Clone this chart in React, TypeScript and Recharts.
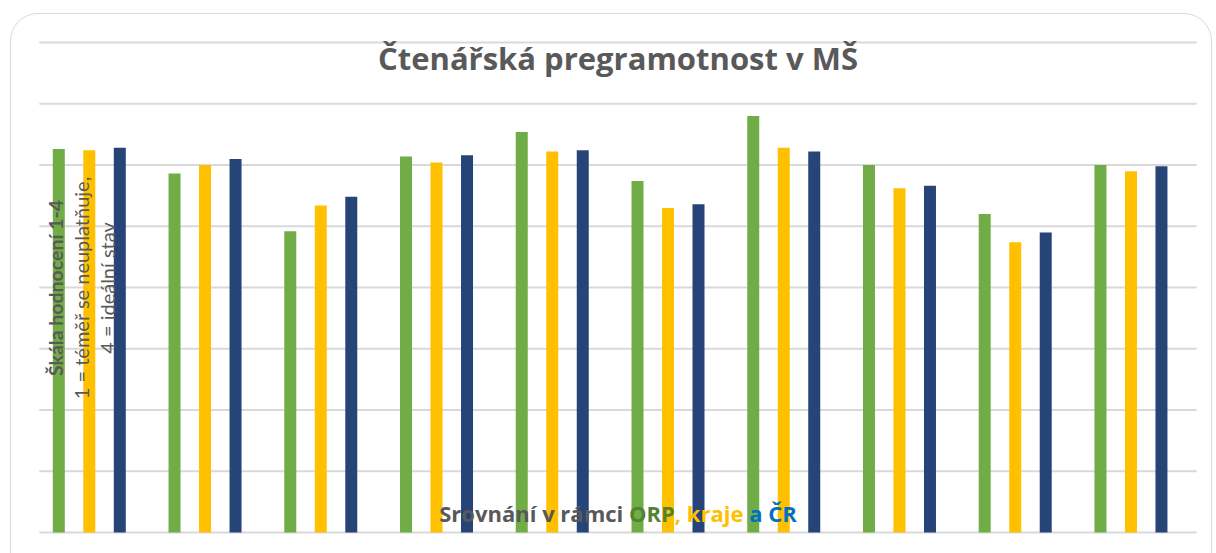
import React from 'react';
import { BarChart, Bar, XAxis, YAxis, CartesianGrid } from 'recharts';

const categories = ['1', '2', '3', '4', '5', '6', '7', '8', '9', '10'];
const orpValues = [3.13, 2.93, 2.46, 3.07, 3.27, 2.87, 3.4, 3.0, 2.6, 3.0];
const krajValues = [3.12, 3.0, 2.67, 3.02, 3.11, 2.65, 3.14, 2.81, 2.37, 2.95];
const crValues = [3.14, 3.05, 2.74, 3.08, 3.12, 2.68, 3.11, 2.83, 2.45, 2.99];
const yTicks = [0, 0.5, 1, 1.5, 2, 2.5, 3, 3.5, 4];

const data = categories.map((name, i) => ({
  name,
  orp: orpValues[i],
  kraj: krajValues[i],
  cr: crValues[i],
}));

const GRAY = '#595959';
const FONT = 'Lato, "Open Sans", sans-serif';
const FONT_WIDE = '"Open Sans", Lato, sans-serif';

export default function App() {
  return (
    <div
      style={{
        position: 'absolute',
        left: 0,
        top: 0,
        width: 1216,
        height: 553,
        overflow: 'hidden',
        background: '#ffffff',
      }}
    >
      <div
        style={{
          position: 'absolute',
          left: 10,
          top: 13,
          width: 1202,
          height: 580,
          border: '1.5px solid #D9D9D9',
          borderRadius: 28,
          boxSizing: 'border-box',
        }}
      />
      <div style={{ position: 'absolute', left: 0, top: 0 }}>
        <BarChart
          width={1216}
          height={553}
          data={data}
          margin={{ top: 42.5, right: 19.3, bottom: 20.5, left: 39.3 }}
          barSize={12}
          barGap={18.5}
        >
          <CartesianGrid vertical={false} stroke="#D9D9D9" strokeWidth={2} />
          <XAxis dataKey="name" hide padding={{ left: -7.5, right: 7.5 }} />
          <YAxis hide domain={[0, 4]} ticks={yTicks} />
          <Bar dataKey="orp" name="ORP" fill="#70AD47" isAnimationActive={false} />
          <Bar dataKey="kraj" name="Kraj" fill="#FFC000" isAnimationActive={false} />
          <Bar dataKey="cr" name="ČR" fill="#264478" isAnimationActive={false} />
        </BarChart>
      </div>
      <svg
        width={1216}
        height={553}
        style={{ position: 'absolute', left: 0, top: 0, pointerEvents: 'none' }}
      >
        <text
          x={618}
          y={70}
          textAnchor="middle"
          fontFamily={FONT_WIDE}
          fontWeight={700}
          fontSize={31}
          fill={GRAY}
        >
          Čtenářská pregramotnost v MŠ
        </text>
        <g fontFamily={FONT} fill={GRAY}>
          <text
            x={63}
            y={288}
            textAnchor="middle"
            fontWeight={700}
            fontSize={19.5}
            transform="rotate(-90, 63, 288)"
          >
            Škála hodnocení 1-4
          </text>
          <text
            x={89}
            y={288}
            textAnchor="middle"
            fontSize={20}
            transform="rotate(-90, 89, 288)"
          >
            1 = téměř se neuplatňuje,
          </text>
          <text
            x={115}
            y={288}
            textAnchor="middle"
            fontSize={20}
            transform="rotate(-90, 115, 288)"
          >
            4 = ideální stav
          </text>
        </g>
        <text
          x={618}
          y={522}
          textAnchor="middle"
          fontFamily={FONT_WIDE}
          fontWeight={700}
          fontSize={22}
        >
          <tspan fill={GRAY}>Srovnání v rámci </tspan>
          <tspan fill="#548235">ORP</tspan>
          <tspan fill="#FFC000">, kraje </tspan>
          <tspan fill="#0070C0">a ČR</tspan>
        </text>
      </svg>
    </div>
  );
}
